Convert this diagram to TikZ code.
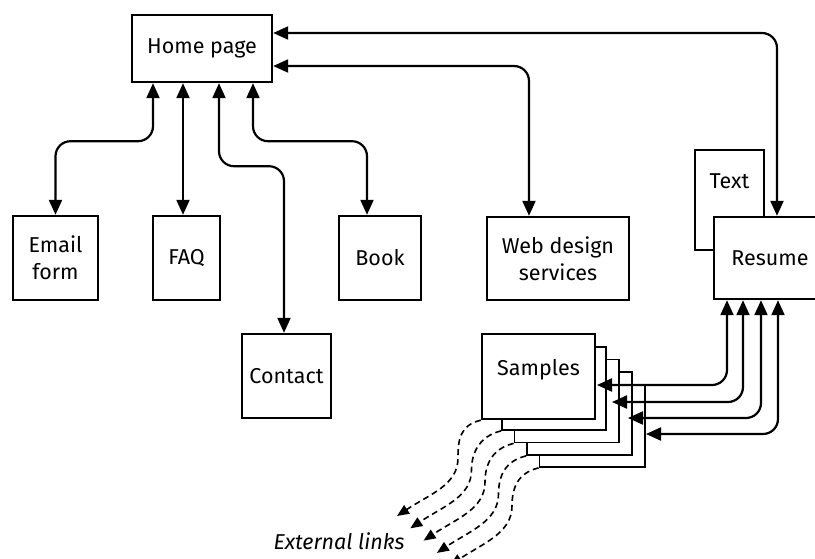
\documentclass[tikz,border=0pt]{standalone}
\usepackage{fontspec}
\setmainfont{Fira Sans}
\usetikzlibrary{arrows.meta,calc}
\begin{document}
\begin{tikzpicture}[x=1pt,y=-1pt,
  box/.style={draw, line width=2.4pt, fill=white, inner sep=0pt, align=center, font=\fontsize{21.5}{27}\selectfont},
  pagebox/.style={draw, line width=1.8pt, fill=white, inner sep=0pt},
  lbl/.style={inner sep=0pt, font=\fontsize{21.5}{27}\selectfont},
  conn/.style={line width=2.2pt, rounded corners=15pt, {Triangle[length=15pt,width=13pt]}-{Triangle[length=15pt,width=13pt]}},
  ext/.style={line width=1.6pt, dash pattern=on 6pt off 4pt, -{Triangle[length=12pt,width=10pt]}}]
\useasboundingbox (0,0) rectangle (815,558);
\clip (0,0) rectangle (815,558);

% boxes
\node[box, minimum width=140pt, minimum height=67pt] (home) at (202,48.5) {Home page};
\node[box, minimum width=85pt, minimum height=84pt] (email) at (55.5,258) {Email\\form};
\node[box, minimum width=67pt, minimum height=84pt] (faq) at (186.5,258) {FAQ};
\node[box, minimum width=82pt, minimum height=84pt] (book) at (380,258) {Book};
\node[box, minimum width=142pt, minimum height=83pt] (web) at (558,258.5) {Web design\\services};
\node[box, minimum width=89pt, minimum height=84pt] (contact) at (286.5,376) {Contact};
\node[box, minimum width=69pt, minimum height=100pt] (textbox) at (729.5,200) {};
\node[lbl] (textlbl) at (729.5,181) {Text};
\node[box, minimum width=112pt, minimum height=82pt] (resume) at (770,258) {Resume};

% sample pages (back to front)
\node[pagebox, minimum width=105.5pt, minimum height=82.5pt] (pg4) at (592.25,425.75) {};
\node[pagebox, minimum width=105pt, minimum height=83pt] (pg3) at (579.5,413.5) {};
\node[pagebox, minimum width=104.5pt, minimum height=83pt] (pg2) at (566.75,401) {};
\node[pagebox, minimum width=104pt, minimum height=83pt] (pg1) at (554,388.5) {};
\node[box, minimum width=113pt, minimum height=85pt] (samples) at (538.5,376.5) {};
\node[lbl] (samplbl) at (538.5,370) {Samples};

% connectors from home page
\draw[conn] ([yshift=15.5pt]home.east) -| ([xshift=7pt]resume.north);
\draw[conn] ([yshift=-17.5pt]home.east) -| ([xshift=-29pt]web.north);
\draw[conn] ([xshift=-49pt]home.south) -- ++(0,58) -| (email.north);
\draw[conn] ([xshift=-19pt]home.south) -- ([xshift=-3.5pt]faq.north);
\draw[conn] ([xshift=17pt]home.south) -- ++(0,83) -| ([xshift=-2.5pt]contact.north);
\draw[conn] ([xshift=51pt]home.south) -- ++(0,58) -| ([xshift=-13pt]book.north);

% resume to samples
\coordinate (t1) at (597,385);
\coordinate (t2) at (612,402);
\coordinate (t3) at (628,418);
\coordinate (t4) at (646,434);
\draw[conn] ([xshift=-43pt]resume.south) |- (t1);
\draw[conn] ([xshift=-27pt]resume.south) |- (t2);
\draw[conn] ([xshift=-9pt]resume.south) |- (t3);
\draw[conn] ([xshift=8pt]resume.south) |- (t4);

% external links
\foreach \nm/\k in {samples/0, pg1/1, pg2/2, pg3/3, pg4/4} {
  \pgfmathsetmacro\mx{458+13.5*\k}
  \pgfmathsetmacro\my{458+12*\k}
  \pgfmathsetmacro\ex{397+13.3*\k}
  \pgfmathsetmacro\ey{516+12.3*\k}
  \draw[ext] (\nm.south west) .. controls ($(\nm.south west)+(-21,5)$) and (\mx,\my-18) .. (\mx,\my)
     .. controls (\mx,\my+27) and (\ex+33,\ey-22) .. (\ex,\ey);
}
\node[lbl, font={\fontsize{21.5}{27}\selectfont\itshape}] (extlbl) at (339,541) {External links};
\end{tikzpicture}
\end{document}
